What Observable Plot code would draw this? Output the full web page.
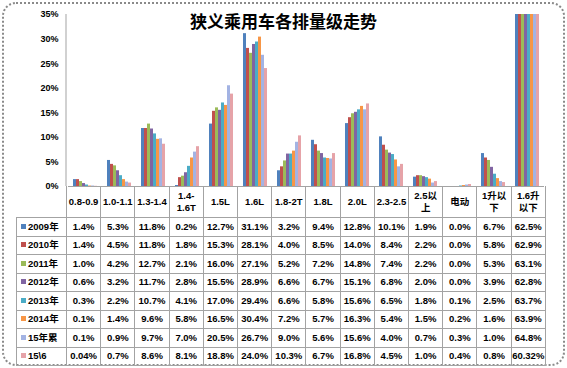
<!DOCTYPE html>
<html><head><meta charset="utf-8">
<script src="https://cdn.jsdelivr.net/npm/d3@7"></script>
<script src="https://cdn.jsdelivr.net/npm/@observablehq/plot@0.6"></script>
<style>
html,body{margin:0;padding:0;background:#fff;}
#wrap{position:relative;width:567px;height:368px;overflow:hidden;background:#fff;}
#frame{position:absolute;left:2px;top:2px;width:559px;height:360px;border:2px dotted #8a8a8a;border-radius:14px;}
#chart{position:absolute;left:0;top:0;}
#title{position:absolute;left:0;top:10px;width:567px;text-align:center;font:bold 17px "Noto Sans CJK SC",sans-serif;line-height:22px;color:#000;}
table{position:absolute;left:16px;top:186px;border-collapse:collapse;table-layout:fixed;width:529px;font:bold 9.5px "Liberation Sans","Noto Sans CJK SC",sans-serif;color:#000;}
td{border:1px solid #a3a3a3;text-align:center;padding:0;white-space:nowrap;overflow:hidden;height:17.5px;line-height:10px;}
tr.head td{height:31px;border-top:none;white-space:pre-line;line-height:12px;}
tr.head td.corner{border-left:none;border-bottom:1px solid #a3a3a3;}
td.leg{text-align:left;padding-left:4px;}
.sw{display:inline-block;width:5px;height:5px;margin-right:2px;vertical-align:middle;position:relative;top:-1px;}
</style></head>
<body>
<div id="wrap">
  <div id="frame"></div>
  <div id="chart"></div>
  <div id="title"></div>
  <table id="tbl"></table>
</div>
<script>
const titleText = "狭义乘用车各排量级走势";
const categories = ["0.8-0.9","1.0-1.1","1.3-1.4","1.4-1.6T","1.5L","1.6L","1.8-2T","1.8L","2.0L","2.3-2.5","2.5以上","电动","1升以下","1.6升以下"];
const headerLabels = ["0.8-0.9","1.0-1.1","1.3-1.4","1.4-\n1.6T","1.5L","1.6L","1.8-2T","1.8L","2.0L","2.3-2.5","2.5以\n上","电动","1升以\n下","1.6升\n以下"];
const series = ["2009年","2010年","2011年","2012年","2013年","2014年","15年累","15\\6"];
const colors = ["#4F81BD","#C0504D","#9BBB59","#8064A2","#4BACC6","#F79646","#A3B3E3","#E6A3A8"];
const v2009 = [1.4,5.3,11.8,0.2,12.7,31.1,3.2,9.4,12.8,10.1,1.9,0.0,6.7,62.5];
const v2010 = [1.4,4.5,11.8,1.8,15.3,28.1,4.0,8.5,14.0,8.4,2.2,0.0,5.8,62.9];
const v2011 = [1.0,4.2,12.7,2.1,16.0,27.1,5.2,7.2,14.8,7.4,2.2,0.0,5.3,63.1];
const v2012 = [0.6,3.2,11.7,2.8,15.5,28.9,6.6,6.7,15.1,6.8,2.0,0.0,3.9,62.8];
const v2013 = [0.3,2.2,10.7,4.1,17.0,29.4,6.6,5.8,15.6,6.5,1.8,0.1,2.5,63.7];
const v2014 = [0.1,1.4,9.6,5.8,16.5,30.4,7.2,5.7,16.3,5.4,1.5,0.2,1.6,63.9];
const v15cum = [0.1,0.9,9.7,7.0,20.5,26.7,9.0,5.6,15.6,4.0,0.7,0.3,1.0,64.8];
const v15m6 = [0.04,0.7,8.6,8.1,18.8,24.0,10.3,6.7,16.8,4.5,1.0,0.4,0.8,60.32];
const yTicks = [0,0.05,0.10,0.15,0.20,0.25,0.30,0.35];

const allValues = [v2009,v2010,v2011,v2012,v2013,v2014,v15cum,v15m6];
const data = [];
series.forEach((s,i)=>categories.forEach((c,j)=>data.push({cat:c, series:s, value:allValues[i][j]/100})));

const chart = Plot.plot({
  width:567, height:192,
  marginTop:14, marginBottom:6, marginLeft:66, marginRight:22,
  style:{fontFamily:"Liberation Sans", fontSize:"9px", fontWeight:"bold", background:"transparent", overflow:"visible", color:"#000"},
  fx:{domain:categories, padding:0, axis:null, label:null},
  x:{domain:series, paddingInner:0, paddingOuter:0.8, axis:null, label:null},
  y:{domain:[0,0.35], clamp:true, ticks:yTicks, tickFormat:d=>Math.round(d*100)+"%", tickSize:0, tickPadding:10, label:null},
  color:{domain:series, range:colors},
  marks:[
    Plot.barY(data,{fx:"cat", x:"series", y:"value", fill:"series"}),
    Plot.ruleY([0],{stroke:"#a3a3a3"})
  ]
});
document.getElementById("chart").appendChild(chart);
const ys = chart.scale("y");
d3.select(chart).append("line")
  .attr("x1",66).attr("x2",66)
  .attr("y1",ys.apply(0)).attr("y2",ys.apply(0.35))
  .attr("stroke","#a3a3a3");

document.getElementById("title").textContent = titleText;

const fmt = v => Math.abs(Math.round(v*10)-v*10)<1e-9 ? v.toFixed(1)+"%" : v.toFixed(2)+"%";
const tbl = d3.select("#tbl");
const cg = tbl.append("colgroup");
cg.append("col").style("width","50px");
categories.forEach(()=>cg.append("col").style("width",(479/14)+"px"));
const hr = tbl.append("tr").attr("class","head");
hr.append("td").attr("class","corner");
headerLabels.forEach(h=>hr.append("td").text(h));
series.forEach((s,i)=>{
  const tr = tbl.append("tr");
  const lc = tr.append("td").attr("class","leg");
  lc.append("span").attr("class","sw").style("background",colors[i]);
  lc.append("span").text(s);
  allValues[i].forEach(v=>tr.append("td").text(fmt(v)));
});
</script>
</body></html>
